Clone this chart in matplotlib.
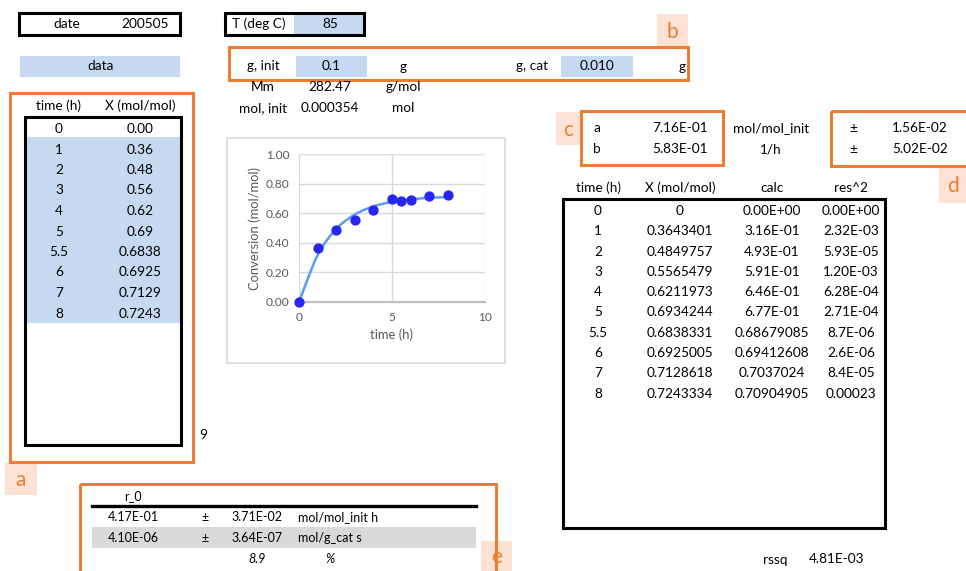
import matplotlib
matplotlib.use("Agg")
import matplotlib.pyplot as plt
from matplotlib.patches import Rectangle, PathPatch
from matplotlib.path import Path
import numpy as np

plt.rcParams['font.family'] = ['Lato', 'DejaVu Sans']

# ---------------- data ----------------
date_value = "200505"
temp_value = "85"
g_init = "0.1"
g_cat = "0.010"
Mm = "282.47"
mol_init = "0.000354"

time_h = [0, 1, 2, 3, 4, 5, 5.5, 6, 7, 8]
time_lbl = ["0", "1", "2", "3", "4", "5", "5.5", "6", "7", "8"]
X_short = ["0.00", "0.36", "0.48", "0.56", "0.62", "0.69", "0.6838", "0.6925", "0.7129", "0.7243"]
X_val = [0, 0.3643401, 0.4849757, 0.5565479, 0.6211973, 0.6934244, 0.6838331, 0.6925005, 0.7128618, 0.7243334]
X_lbl = ["0", "0.3643401", "0.4849757", "0.5565479", "0.6211973", "0.6934244", "0.6838331", "0.6925005", "0.7128618", "0.7243334"]
calc_val = [0.0, 0.316, 0.493, 0.591, 0.646, 0.677, 0.68679085, 0.69412608, 0.7037024, 0.70904905]
calc_lbl = ["0.00E+00", "3.16E-01", "4.93E-01", "5.91E-01", "6.46E-01", "6.77E-01", "0.68679085", "0.69412608", "0.7037024", "0.70904905"]
res_lbl = ["0.00E+00", "2.32E-03", "5.93E-05", "1.20E-03", "6.28E-04", "2.71E-04", "8.7E-06", "2.6E-06", "8.4E-05", "0.00023"]

param_names = ["a", "b"]
param_vals = ["7.16E-01", "5.83E-01"]
param_units = ["mol/mol_init", "1/h"]
param_errs = ["1.56E-02", "5.02E-02"]
rssq = "4.81E-03"

r0_vals = ["4.17E-01", "4.10E-06"]
r0_errs = ["3.71E-02", "3.64E-07"]
r0_units = ["mol/mol_init h", "mol/g_cat s"]
r0_pct = "8.9"

# ---------------- style ----------------
ORANGE = "#ED7D31"
PALE = "#FBE2D5"
BLUE_CELL = "#C6D9F0"
GRAY_ROW = "#D9D9D9"
FS = 9.8
TXT = "#000000"

W, H = 966, 571
fig = plt.figure(figsize=(W / 100, H / 100), dpi=100)
ax = fig.add_axes([0, 0, 1, 1])
ax.set_xlim(0, W)
ax.set_ylim(H, 0)
ax.axis("off")


def rect(x0, y0, x1, y1, fc="none", ec="none", lw=1.0, z=1):
    ax.add_patch(Rectangle((x0, y0), x1 - x0, y1 - y0, facecolor=fc, edgecolor=ec, linewidth=lw, zorder=z))


def txt(x, y, s, ha="center", size=FS, color=TXT, **kw):
    ax.text(x, y, s, ha=ha, va="center", fontsize=size, color=color, zorder=5, **kw)


def label_box(x0, y0, x1, y1, s):
    rect(x0, y0, x1, y1, fc=PALE, z=1)
    txt((x0 + x1) / 2, (y0 + y1) / 2 + 1, s, size=15, color=ORANGE)


# ---------------- top row ----------------
rect(19, 13, 180, 35, ec="black", lw=2.2, z=3)
txt(67, 24, "date")
txt(145, 24, date_value)

rect(294, 14, 363, 34, fc=BLUE_CELL, z=1)
rect(225, 13, 364, 35, ec="black", lw=2.2, z=3)
txt(259, 24, "T (deg C)")
txt(330, 24, temp_value)

label_box(657, 14, 688, 47, "b")
rect(20, 56, 180, 77, fc=BLUE_CELL)
txt(101, 66, "data")

rect(229, 47, 688, 80, ec=ORANGE, lw=2.2, z=3)
txt(263, 66, "g, init")
rect(296, 56, 367, 77, fc=BLUE_CELL)
txt(331, 66, g_init)
txt(403, 67, "g")
txt(532, 66, "g, cat")
rect(561, 56, 633, 77, fc=BLUE_CELL)
txt(597, 66, g_cat)
txt(682, 67, "g")

txt(263, 87, "Mm")
txt(330, 87, Mm)
txt(403, 87, "g/mol")
txt(263, 108, "mol, init")
txt(330, 108, mol_init)
txt(403, 108, "mol")

# ---------------- table a ----------------
rect(10, 93, 193, 462, ec=ORANGE, lw=2.2, z=3)
txt(59, 106, "time (h)")
txt(140, 106, "X (mol/mol)")
rect(26, 137, 180, 323, fc=BLUE_CELL)
rect(25, 117, 181, 445, ec="black", lw=2.2, z=3)
for i in range(len(time_lbl)):
    y = 129 + i * 20.5
    txt(59, y, time_lbl[i])
    txt(140, y, X_short[i])
txt(203, 435, "9")
label_box(5, 463, 37, 495, "a")

# ---------------- chart ----------------
rect(227, 138, 505, 363, fc="white", ec="#D9D9D9", lw=1.2, z=1)
cax = fig.add_axes([299 / W, 1 - 302 / H, (485 - 299) / W, (302 - 154) / H])
cax.set_xlim(0, 10)
cax.set_ylim(0, 1.0)
cax.set_xticks([0, 5, 10])
cax.set_yticks(np.arange(0, 1.01, 0.2))
cax.yaxis.set_major_formatter(matplotlib.ticker.FormatStrFormatter("%.2f"))
cax.grid(True, color="#D9D9D9", lw=1.0)
cax.set_axisbelow(True)
for s in ["top", "right", "left"]:
    cax.spines[s].set_visible(False)
cax.spines["bottom"].set_color("#BFBFBF")
cax.spines["bottom"].set_linewidth(1.6)
cax.tick_params(length=0, labelsize=8.6, labelcolor="#595959", pad=7)
cax.set_xlabel("time (h)", fontsize=9.4, color="#595959", labelpad=4)
cax.set_ylabel("Conversion (mol/mol)", fontsize=9.4, color="#595959", labelpad=3)
cax.patch.set_alpha(0)

# smoothed line through the calculated points (Catmull-Rom rendered as Bezier)
px = np.array(time_h, float)
py = np.array(calc_val, float)
verts = [(px[0], py[0])]
codes = [Path.MOVETO]
n = len(px)
for i in range(n - 1):
    p0 = np.array([px[max(i - 1, 0)], py[max(i - 1, 0)]])
    p1 = np.array([px[i], py[i]])
    p2 = np.array([px[i + 1], py[i + 1]])
    p3 = np.array([px[min(i + 2, n - 1)], py[min(i + 2, n - 1)]])
    c1 = p1 + (p2 - p0) / 6.0
    c2 = p2 - (p3 - p1) / 6.0
    verts += [tuple(c1), tuple(c2), tuple(p2)]
    codes += [Path.CURVE4, Path.CURVE4, Path.CURVE4]
cax.add_patch(PathPatch(Path(verts, codes), facecolor="none", edgecolor="#5B9BF5", lw=1.8, zorder=3))
cax.plot(time_h, X_val, "o", color="#2626F0", ms=6.4, zorder=4, clip_on=False)

# ---------------- parameters c / d ----------------
label_box(556, 112, 580, 145, "c")
rect(581, 111, 723, 165, ec=ORANGE, lw=2.2, z=3)
rect(831, 111, 968, 166, ec=ORANGE, lw=2.2, z=3)
label_box(939, 167, 966, 203, "d")
for i in range(2):
    y = 128 + i * 21
    txt(597, y, param_names[i])
    txt(680, y, param_vals[i])
    txt(771, y, param_units[i])
    txt(853, y, "±")
    txt(920, y, param_errs[i])

# ---------------- right table ----------------
txt(598, 188, "time (h)")
txt(680, 188, "X (mol/mol)")
txt(772, 188, "calc")
txt(851, 188, "res^2")
rect(563, 199, 885, 528, ec="black", lw=2.2, z=3)
for i in range(len(time_lbl)):
    y = 211 + i * 20.3
    txt(598, y, time_lbl[i])
    txt(680, y, X_lbl[i])
    txt(772, y, calc_lbl[i])
    txt(851, y, res_lbl[i])
txt(775, 560, "rssq")
txt(837, 559, rssq)

# ---------------- section e ----------------
NARROW = 9.0
rect(80, 484, 496, 575, ec=ORANGE, lw=2.2, z=3)
label_box(481, 541, 512, 571, "e")
txt(133, 496, "r_0", size=NARROW)
ax.plot([92, 476], [506, 506], color="black", lw=2.4, zorder=4)
rect(92, 527, 476, 548, fc=GRAY_ROW)
for i in range(2):
    y = 517 + i * 21
    txt(133, y, r0_vals[i], size=NARROW)
    txt(205, y, "±", size=NARROW)
    txt(257, y, r0_errs[i], size=NARROW)
    txt(298, y, r0_units[i], ha="left", size=NARROW)
txt(257, 559, r0_pct, size=NARROW, style="italic")
txt(330, 559, "%", size=NARROW, style="italic")

fig.savefig("out.png", dpi=100)
